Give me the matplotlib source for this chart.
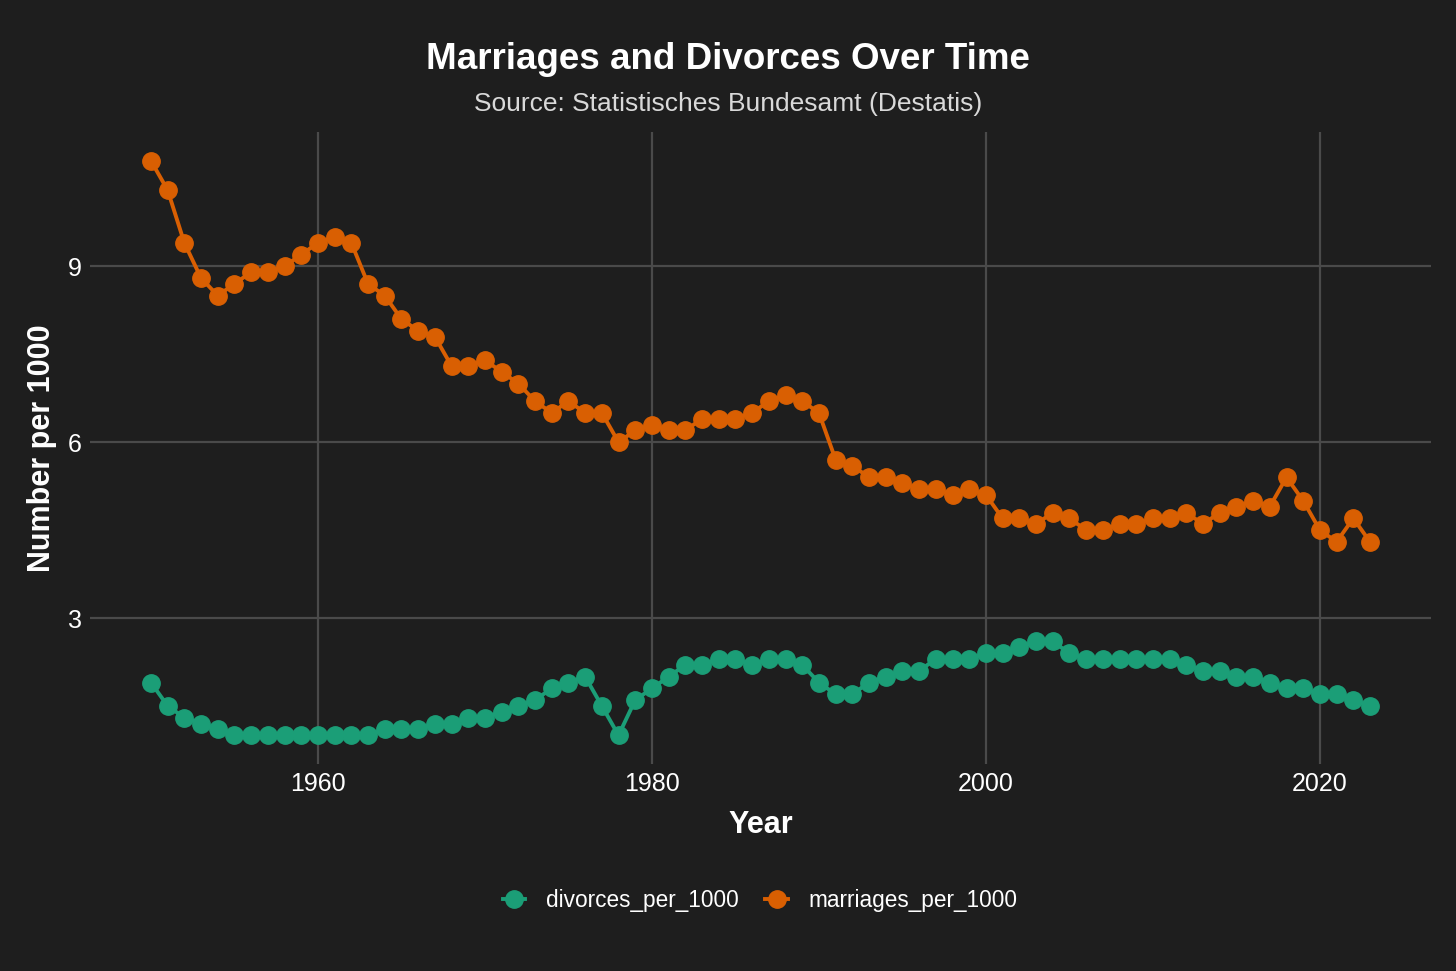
import matplotlib.pyplot as plt
import numpy as np

plt.rcParams['font.family'] = ['Liberation Sans', 'DejaVu Sans']

years = list(range(1950, 2024))

marriages_per_1000 = [
    10.8, 10.3, 9.4, 8.8, 8.5, 8.7, 8.9, 8.9, 9.0, 9.2,   # 1950-1959
    9.4, 9.5, 9.4, 8.7, 8.5, 8.1, 7.9, 7.8, 7.3, 7.3,     # 1960-1969
    7.4, 7.2, 7.0, 6.7, 6.5, 6.7, 6.5, 6.5, 6.0, 6.2,     # 1970-1979
    6.3, 6.2, 6.2, 6.4, 6.4, 6.4, 6.5, 6.7, 6.8, 6.7,     # 1980-1989
    6.5, 5.7, 5.6, 5.4, 5.4, 5.3, 5.2, 5.2, 5.1, 5.2,     # 1990-1999
    5.1, 4.7, 4.7, 4.6, 4.8, 4.7, 4.5, 4.5, 4.6, 4.6,     # 2000-2009
    4.7, 4.7, 4.8, 4.6, 4.8, 4.9, 5.0, 4.9, 5.4, 5.0,     # 2010-2019
    4.5, 4.3, 4.7, 4.3,                                   # 2020-2023
]

divorces_per_1000 = [
    1.9, 1.5, 1.3, 1.2, 1.1, 1.0, 1.0, 1.0, 1.0, 1.0,
    1.0, 1.0, 1.0, 1.0, 1.1, 1.1, 1.1, 1.2, 1.2, 1.3,
    1.3, 1.4, 1.5, 1.6, 1.8, 1.9, 2.0, 1.5, 1.0, 1.6,
    1.8, 2.0, 2.2, 2.2, 2.3, 2.3, 2.2, 2.3, 2.3, 2.2,
    1.9, 1.7, 1.7, 1.9, 2.0, 2.1, 2.1, 2.3, 2.3, 2.3,
    2.4, 2.4, 2.5, 2.6, 2.6, 2.4, 2.3, 2.3, 2.3, 2.3,
    2.3, 2.3, 2.2, 2.1, 2.1, 2.0, 2.0, 1.9, 1.8, 1.8,
    1.7, 1.7, 1.6, 1.5,
]

series_names = ['divorces_per_1000', 'marriages_per_1000']
series_colors = ['#1b9e77', '#d95f02']

bg = '#1e1e1e'
grid_col = '#4a4a4a'
txt = '#ffffff'

fig = plt.figure(figsize=(14.56, 9.71), dpi=100, facecolor=bg)
ax = fig.add_axes([0.0618, 0.2132, 0.921, 0.6508], facecolor=bg)

for name, vals, col in zip(series_names, [divorces_per_1000, marriages_per_1000], series_colors):
    ax.plot(years, vals, color=col, lw=2.8, marker='o', ms=12.5, label=name)

ax.set_xlim(1946.35, 2026.65)
ax.set_ylim(0.51, 11.29)
ax.set_xticks([1960, 1980, 2000, 2020])
ax.set_yticks([3, 6, 9])
ax.grid(True, color=grid_col, lw=1.6)
ax.set_axisbelow(True)
for s in ax.spines.values():
    s.set_visible(False)
ax.tick_params(length=0, colors=txt, labelsize=18, pad=6)

ax.set_xlabel('Year', color=txt, fontsize=22, fontweight='bold', labelpad=10)
ax.set_ylabel('Number per 1000', color=txt, fontsize=22, fontweight='bold', labelpad=8)

fig.text(0.5, 0.939, 'Marriages and Divorces Over Time', ha='center', va='center',
         color=txt, fontsize=26.5, fontweight='bold')
fig.text(0.5, 0.893, 'Source: Statistisches Bundesamt (Destatis)', ha='center', va='center',
         color='#d9d9d9', fontsize=19)

leg = fig.legend(loc='center', bbox_to_anchor=(0.522, 0.073), ncol=2, frameon=False,
                 fontsize=16.3, handlelength=1.0, columnspacing=1.2, handletextpad=0.9)
for t in leg.get_texts():
    t.set_color(txt)

fig.savefig('out.png', dpi=100, facecolor=bg)
